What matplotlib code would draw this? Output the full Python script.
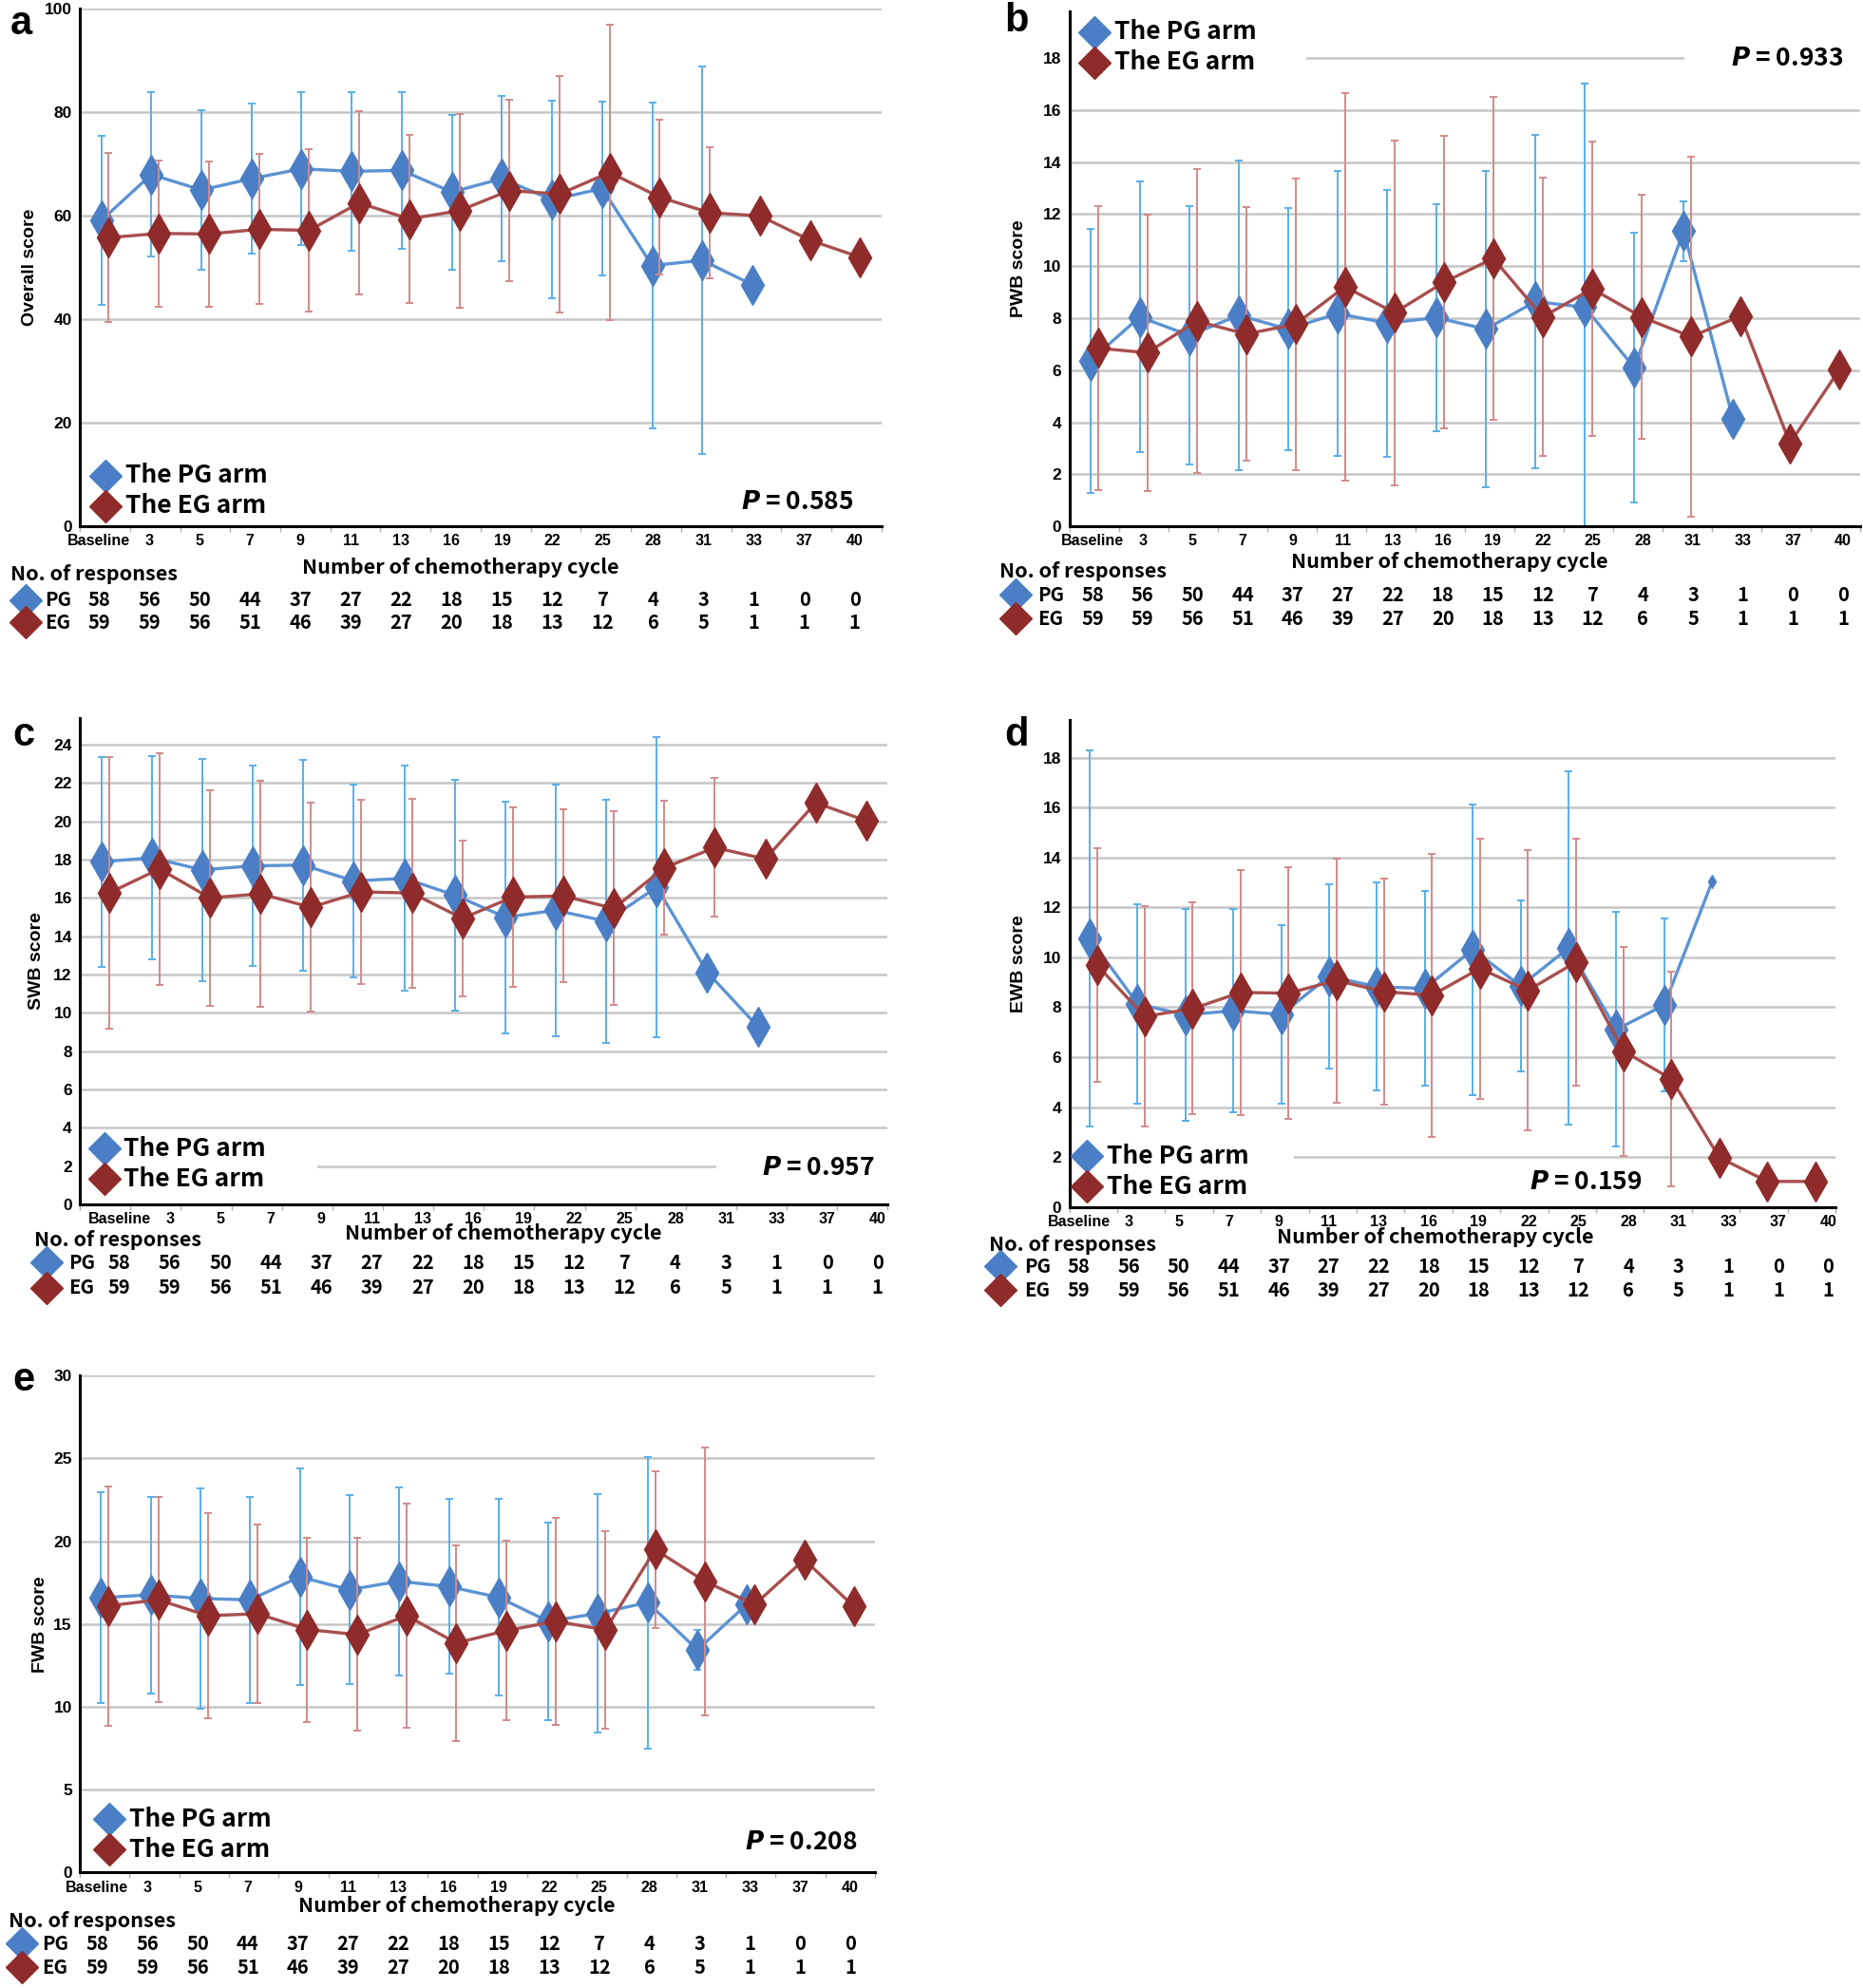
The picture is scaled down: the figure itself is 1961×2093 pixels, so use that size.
import numpy as np
import matplotlib
matplotlib.use("Agg")
import matplotlib.pyplot as plt
from matplotlib.transforms import offset_copy

plt.rcParams['mathtext.fontset'] = 'custom'
plt.rcParams['mathtext.it'] = 'DejaVu Sans:italic:bold'

"""data"""

nan = np.nan
cycles = ['Baseline', '3', '5', '7', '9', '11', '13', '16', '19', '22', '25', '28', '31', '33', '37', '40']
n_pg = [58, 56, 50, 44, 37, 27, 22, 18, 15, 12, 7, 4, 3, 1, 0, 0]
n_eg = [59, 59, 56, 51, 46, 39, 27, 20, 18, 13, 12, 6, 5, 1, 1, 1]

overall_pg    = [59.1, 68.0, 65.0, 67.2, 69.1, 68.6, 68.8, 64.6, 67.2, 63.1, 65.3, 50.4, 51.4, 46.7, nan, nan]
overall_pg_sd = [16.4, 15.9, 15.4, 14.5, 14.8, 15.4, 15.1, 15.0, 16.0, 19.1, 16.8, 31.5, 37.5, nan, nan, nan]
overall_eg    = [55.8, 56.6, 56.5, 57.4, 57.2, 62.5, 59.4, 61.0, 64.9, 64.2, 68.4, 63.6, 60.6, 60.0, 55.3, 52.0]
overall_eg_sd = [16.4, 14.1, 14.1, 14.5, 15.7, 17.7, 16.3, 18.7, 17.5, 22.9, 28.5, 15.0, 12.7, nan, nan, nan]

pwb_pg    = [6.37, 8.05, 7.34, 8.11, 7.58, 8.18, 7.81, 8.02, 7.58, 8.64, 8.42, 6.10, 11.35, 4.12, nan, nan]
pwb_pg_sd = [5.08, 5.20, 4.96, 5.96, 4.65, 5.49, 5.13, 4.38, 6.07, 6.40, 8.60, 5.17, 1.15, nan, nan, nan]
pwb_eg    = [6.85, 6.67, 7.89, 7.39, 7.77, 9.21, 8.21, 9.38, 10.30, 8.05, 9.13, 8.05, 7.29, 8.08, 3.19, 6.02]
pwb_eg_sd = [5.45, 5.30, 5.85, 4.87, 5.60, 7.45, 6.63, 5.63, 6.22, 5.34, 5.65, 4.70, 6.93, nan, nan, nan]

swb_pg    = [17.88, 18.09, 17.46, 17.67, 17.71, 16.88, 17.02, 16.14, 14.99, 15.35, 14.78, 16.56, 12.12, 9.29, nan, nan]
swb_pg_sd = [5.49, 5.30, 5.79, 5.21, 5.49, 5.03, 5.87, 6.03, 6.05, 6.57, 6.35, 7.85, nan, nan, nan, nan]
swb_eg    = [16.25, 17.51, 16.00, 16.21, 15.51, 16.31, 16.25, 14.93, 16.04, 16.10, 15.45, 17.57, 18.62, 18.03, 20.96, 20.02]
swb_eg_sd = [7.09, 6.05, 5.63, 5.92, 5.45, 4.83, 4.93, 4.07, 4.70, 4.52, 5.05, 3.49, 3.62, nan, nan, nan]

ewb_pg    = [10.76, 8.13, 7.69, 7.86, 7.71, 9.24, 8.82, 8.75, 10.31, 8.85, 10.37, 7.11, 8.08, 13.03, nan, nan]
ewb_pg_sd = [7.53, 3.99, 4.23, 4.07, 3.59, 3.69, 4.16, 3.89, 5.82, 3.43, 7.08, 4.70, 3.46, nan, nan, nan]
ewb_eg    = [9.69, 7.63, 7.94, 8.59, 8.56, 9.07, 8.62, 8.48, 9.55, 8.67, 9.80, 6.24, 5.12, 1.98, 1.02, 1.02]
ewb_eg_sd = [4.68, 4.42, 4.24, 4.92, 5.03, 4.88, 4.54, 5.67, 5.21, 5.62, 4.93, 4.18, 4.29, nan, nan, nan]

fwb_pg    = [16.59, 16.76, 16.54, 16.46, 17.85, 17.07, 17.58, 17.26, 16.61, 15.16, 15.64, 16.30, 13.44, 16.20, nan, nan]
fwb_pg_sd = [6.35, 5.93, 6.65, 6.21, 6.52, 5.70, 5.67, 5.28, 5.94, 5.96, 7.20, 8.80, 1.18, nan, nan, nan]
fwb_eg    = [16.10, 16.46, 15.50, 15.62, 14.67, 14.36, 15.50, 13.85, 14.60, 15.16, 14.65, 19.49, 17.58, 16.17, 18.89, 16.05]
fwb_eg_sd = [7.22, 6.20, 6.17, 5.37, 5.56, 5.82, 6.76, 5.92, 5.41, 6.24, 5.97, 4.71, 8.07, nan, nan, nan]

p_values = ['0.585', '0.933', '0.957', '0.159', '0.208']

"""style"""

KR = ['Noto Sans CJK KR', 'DejaVu Sans']
NARROW = ['Liberation Sans Narrow', 'Liberation Sans', 'DejaVu Sans']
ARIAL = ['Liberation Sans', 'DejaVu Sans']

c_pg, c_pg_line, c_pg_err = '#4a7fc6', '#5b93d3', '#5aaee6'
c_eg, c_eg_line, c_eg_err = '#8f2b2b', '#a84e4e', '#d08a8a'

# letter, ylabel, pg, pg_sd, eg, eg_sd, ymax, ystep
panels = [
    ('a', 'Overall score', overall_pg, overall_pg_sd, overall_eg, overall_eg_sd, 100, 20),
    ('b', 'PWB score', pwb_pg, pwb_pg_sd, pwb_eg, pwb_eg_sd, 19.8, 2),
    ('c', 'SWB score', swb_pg, swb_pg_sd, swb_eg, swb_eg_sd, 25.4, 2),
    ('d', 'EWB score', ewb_pg, ewb_pg_sd, ewb_eg, ewb_eg_sd, 19.5, 2),
    ('e', 'FWB score', fwb_pg, fwb_pg_sd, fwb_eg, fwb_eg_sd, 30, 5),
]

# per-panel placement (axes rect, letter, key, P text, table span, offsets in points)
layout = [
    dict(rect=[0.0429, 0.7353, 0.4302, 0.2602], letter=(0.0054, 0.983), key=(0.032, 0.098),
         p=(0.965, 0.047), ylab=-0.052, xlab_x=0.475, span=(-0.12, 14.97),
         below=(31, 36, 56, 73), left=(-53, -41, -27), masks=[], small=[]),
    dict(rect=[0.5740, 0.7353, 0.4246, 0.2590], letter=(0.539, 0.984), key=(0.032, 0.960),
         p=(0.978, 0.909), ylab=-0.053, xlab_x=0.481, span=(-0.03, 15.15),
         below=(27, 34, 52, 70), left=(-53, -41, -24),
         masks=[(0.0, 0.30, 0.87, 0.95), (0.777, 1.0, 0.87, 0.95)], small=[]),
    dict(rect=[0.0429, 0.3941, 0.4336, 0.2449], letter=(0.0068, 0.625), key=(0.030, 0.115),
         p=(0.984, 0.0755), ylab=-0.044, xlab_x=0.524, span=(0.28, 15.3),
         below=(22, 27, 44, 63), left=(-35, -25, -9),
         masks=[(0.0, 0.294, 0.05, 0.11), (0.788, 1.0, 0.05, 0.11)], small=[]),
    dict(rect=[0.5740, 0.3929, 0.4112, 0.2449], letter=(0.539, 0.625), key=(0.023, 0.104),
         p=(0.747, 0.052), ylab=-0.055, xlab_x=0.478, span=(-0.3, 15.35),
         below=(23, 29, 45, 63), left=(-61, -52, -34),
         masks=[(0.0, 0.293, 0.08, 0.125)], small=[13]),
    dict(rect=[0.0429, 0.0581, 0.4268, 0.2500], letter=(0.0068, 0.3005), key=(0.037, 0.107),
         p=(0.978, 0.061), ylab=-0.040, xlab_x=0.474, span=(-0.15, 15.0),
         below=(25, 37, 54, 72), left=(-54, -44, -29), masks=[], small=[]),
]

x = np.arange(len(cycles))
off = 0.075

fig = plt.figure(figsize=(19.61, 20.93), dpi=100)

for (letter, ylabel, pg, pg_sd, eg, eg_sd, ymax, ystep), lay, pval in zip(panels, layout, p_values):
    ax = fig.add_axes(lay['rect'])
    pg = np.array(pg); eg = np.array(eg)

    # PG series
    ax.errorbar(x - off, pg, yerr=pg_sd, fmt='none', ecolor=c_pg_err, elinewidth=1.4,
                capsize=3, capthick=1.4, zorder=2)
    ax.plot(x - off, pg, color=c_pg_line, lw=2.4, zorder=3)
    big = np.array([i not in lay['small'] for i in x])
    ax.plot((x - off)[big], pg[big], ls='none', marker='d', ms=21, color=c_pg, mec=c_pg, zorder=4)
    ax.plot((x - off)[~big], pg[~big], ls='none', marker='d', ms=7, color=c_pg, zorder=4)

    # EG series
    ax.errorbar(x + off, eg, yerr=eg_sd, fmt='none', ecolor=c_eg_err, elinewidth=1.4,
                capsize=3, capthick=1.4, zorder=5)
    ax.plot(x + off, eg, color=c_eg_line, lw=2.4, zorder=6)
    ax.plot(x + off, eg, ls='none', marker='d', ms=21, color=c_eg, mec=c_eg, zorder=7)

    # table / tick label positions
    s0, s1 = lay['span']
    xt = s0 + (s1 - s0) * x / (len(cycles) - 1)

    # axes
    ax.set_xlim(-0.5, len(cycles) - 0.5)
    ax.set_ylim(0, ymax)
    yt = np.arange(0, ymax + 0.01, ystep)
    ax.set_yticks(yt)
    ax.set_yticklabels(['{:g}'.format(v) for v in yt], family=NARROW, fontweight='bold', fontsize=12.5)
    ax.set_xticks(xt)
    ax.set_xticklabels(cycles, family=NARROW, fontweight='bold', fontsize=11.5)
    ax.set_xticks(np.arange(-0.5, len(cycles)), minor=True)
    ax.tick_params(axis='both', which='major', length=0)
    ax.tick_params(axis='x', which='major', pad=6)
    ax.tick_params(axis='y', which='major', pad=6)
    ax.tick_params(axis='x', which='minor', length=4, width=1, color='#b0b0b0')
    for s in ['top', 'right']:
        ax.spines[s].set_visible(False)
    for s in ['left', 'bottom']:
        ax.spines[s].set_linewidth(2.2)
    ax.set_axisbelow(True)
    ax.grid(axis='y', color='#c6c6c6', lw=1.8)

    for (x0, x1, y0, y1) in lay['masks']:
        ax.add_patch(plt.Rectangle((x0, y0), x1 - x0, y1 - y0, transform=ax.transAxes,
                                   facecolor='white', edgecolor='none', zorder=1))

    ax.set_ylabel(ylabel, family=ARIAL, fontweight='bold', fontsize=14)
    ax.yaxis.set_label_coords(lay['ylab'], 0.5)

    # key
    kx, ky = lay['key']
    for j, (name, col) in enumerate([('The PG arm', c_pg), ('The EG arm', c_eg)]):
        tr = offset_copy(ax.transAxes, fig=fig, x=0, y=-23 * j, units='points')
        ax.plot([kx], [ky], marker='D', ms=17, color=col, transform=tr, clip_on=False, zorder=8)
        tr2 = offset_copy(ax.transAxes, fig=fig, x=15, y=-23 * j, units='points')
        ax.text(kx, ky, name, transform=tr2, family=KR, fontweight='bold', fontsize=19,
                va='center', ha='left', zorder=8)

    # P value
    ax.text(lay['p'][0], lay['p'][1], r'$P$ = ' + pval, transform=ax.transAxes, ha='right',
            va='center', family=KR, fontweight='bold', fontsize=19, zorder=8)

    # x label and response table
    b_xlab, b_no, b_pg, b_eg = lay['below']
    ax.annotate('Number of chemotherapy cycle', xy=(lay['xlab_x'], 0), xycoords='axes fraction',
                xytext=(0, -b_xlab), textcoords='offset points', ha='center', va='center',
                family=KR, fontweight='bold', fontsize=15.5, annotation_clip=False)
    l_no, l_dia, l_txt = lay['left']
    ax.annotate('No. of responses', xy=(0, 0), xycoords='axes fraction', xytext=(l_no, -b_no),
                textcoords='offset points', ha='left', va='center', family=KR, fontweight='bold',
                fontsize=15.5, annotation_clip=False)
    for name, counts, col, dy in [('PG', n_pg, c_pg, b_pg), ('EG', n_eg, c_eg, b_eg)]:
        tr = offset_copy(ax.transAxes, fig=fig, x=l_dia, y=-dy, units='points')
        ax.plot([0], [0], marker='D', ms=17, color=col, transform=tr, clip_on=False, zorder=8)
        ax.annotate(name, xy=(0, 0), xycoords='axes fraction', xytext=(l_txt, -dy),
                    textcoords='offset points', ha='left', va='center', family=KR,
                    fontweight='bold', fontsize=14.5, annotation_clip=False)
        for xi, n in zip(xt, counts):
            ax.annotate(str(n), xy=(xi, 0), xycoords=('data', 'axes fraction'), xytext=(0, -dy),
                        textcoords='offset points', ha='center', va='center', family=KR,
                        fontweight='bold', fontsize=14.5, annotation_clip=False)

    fig.text(lay['letter'][0], lay['letter'][1], letter, family=ARIAL, fontweight='bold',
             fontsize=30, va='baseline', ha='left')

"""save"""

plt.savefig('out.png', dpi=100)
